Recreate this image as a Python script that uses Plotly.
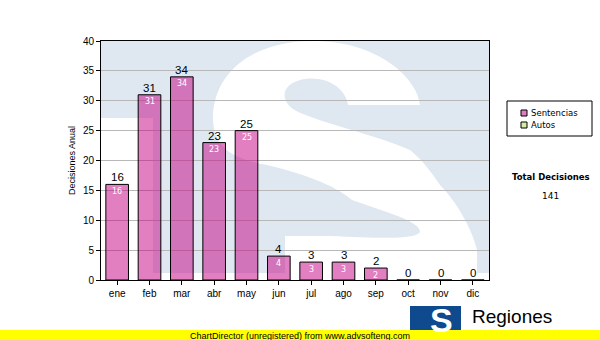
import plotly.graph_objects as go

# ---------------- data ----------------
months = ["ene", "feb", "mar", "abr", "may", "jun", "jul", "ago", "sep", "oct", "nov", "dic"]
sentencias = [16, 31, 34, 23, 25, 4, 3, 3, 2, 0, 0, 0]
series_names = ["Sentencias", "Autos"]
series_colors = ["#e07cc0", "#d9eca6"]
y_title = "Decisiones Anual"
total_label = "Total Decisiones"
footer_text = "ChartDirector (unregistered) from www.advsofteng.com"
logo_text = "Regiones"
y_ticks = [0, 5, 10, 15, 20, 25, 30, 35, 40]

total = sum(sentencias)

W, H = 600, 340
L, R, T, B = 101, 489, 41, 280   # plot area in pixels


def px(x):
    return (x - L) / (R - L)


def py(y):
    return (B - y) / (B - T)


def path(cmds):
    out = []
    for c in cmds:
        op, pts = c[0], c[1:]
        s = op
        for (x, y) in pts:
            s += " %.4f,%.4f" % (px(x), py(y))
        out.append(s)
    return " ".join(out) + " Z"


WM_BLUE = "#dfe8f1"
shapes = []
# watermark: T-shaped light-blue block
shapes.append(dict(type="rect", xref="paper", yref="paper", x0=px(101), x1=px(489), y0=py(118), y1=py(41),
                   fillcolor=WM_BLUE, line_width=0, layer="below"))
shapes.append(dict(type="rect", xref="paper", yref="paper", x0=px(153), x1=px(489), y0=py(273), y1=py(118),
                   fillcolor=WM_BLUE, line_width=0, layer="below"))
# watermark: white S cut out
s_path = path([
    ("M", (348, 105)),
    ("L", (420, 105)),
    ("C", (418, 80), (380, 41), (313, 41)),
    ("C", (250, 41), (213, 75), (213, 118)),
    ("C", (213, 145), (230, 158), (262, 164)),
    ("C", (300, 172), (335, 185), (352, 200)),
    ("C", (395, 215), (420, 222), (420, 232)),
    ("C", (415, 240), (380, 238), (330, 236)),
    ("L", (285, 236)),
    ("L", (285, 273)),
    ("L", (477, 273)),
    ("L", (477, 250)),
    ("C", (472, 228), (455, 200), (440, 185)),
    ("C", (430, 170), (420, 158), (410, 150)),
    ("C", (375, 135), (330, 125), (303, 114)),
    ("C", (280, 106), (278, 86), (300, 80)),
    ("C", (325, 74), (346, 88), (348, 105)),
])
shapes.append(dict(type="path", xref="paper", yref="paper", path=s_path,
                   fillcolor="white", line_width=0, layer="below"))

# legend box
shapes.append(dict(type="rect", xref="paper", yref="paper", x0=px(507), x1=px(592), y0=py(136), y1=py(101),
                   fillcolor="white", line=dict(color="black", width=1)))
annotations = []
for i, (name, col) in enumerate(zip(series_names, series_colors)):
    yc = 113 + i * 12
    shapes.append(dict(type="rect", xref="paper", yref="paper", x0=px(521), x1=px(527), y0=py(yc + 3), y1=py(yc - 3),
                       fillcolor=col, line=dict(color="black", width=1)))
    annotations.append(dict(xref="paper", yref="paper", x=px(529), y=py(yc), text=name, showarrow=False,
                            xanchor="left", yanchor="middle",
                            font=dict(family="DejaVu Sans", size=8.5, color="black")))

annotations.append(dict(xref="paper", yref="paper", x=px(551), y=py(177), text="<b>%s</b>" % total_label,
                        showarrow=False, xanchor="center", yanchor="middle",
                        font=dict(family="DejaVu Sans", size=8.5, color="black")))
annotations.append(dict(xref="paper", yref="paper", x=px(550), y=py(196), text=str(total),
                        showarrow=False, xanchor="center", yanchor="middle",
                        font=dict(family="DejaVu Sans", size=9, color="black")))

# value labels (data-driven, positioned by the axes)
for m, v in zip(months, sentencias):
    annotations.append(dict(xref="x", yref="y", x=m, y=v, text=str(v), showarrow=False,
                            xanchor="center", yanchor="middle", yshift=7,
                            font=dict(family="Liberation Sans", size=11.5, color="black")))
    if v > 0:
        annotations.append(dict(xref="x", yref="y", x=m, y=v, text=str(v), showarrow=False,
                                xanchor="center", yanchor="middle", yshift=-7,
                                font=dict(family="DejaVu Sans", size=8, color="white")))

# logo
shapes.append(dict(type="rect", xref="paper", yref="paper", x0=px(410), x1=px(461), y0=py(331), y1=py(306),
                   fillcolor="#0f4a8f", line_width=0))
annotations.append(dict(xref="paper", yref="paper", x=px(441), y=py(320), text="<b>S</b>", showarrow=False,
                        xanchor="center", yanchor="middle",
                        font=dict(family="Liberation Sans", size=34, color="white")))
annotations.append(dict(xref="paper", yref="paper", x=px(470), y=py(316), text=logo_text, showarrow=False,
                        xanchor="left", yanchor="middle",
                        font=dict(family="Liberation Sans", size=19, color="black")))

# footer yellow strip
shapes.append(dict(type="rect", xref="paper", yref="paper", x0=px(0), x1=px(600), y0=py(340), y1=py(330),
                   fillcolor="#ffff00", line_width=0))
annotations.append(dict(xref="paper", yref="paper", x=px(300), y=py(335.5), text=footer_text, showarrow=False,
                        xanchor="center", yanchor="middle",
                        font=dict(family="Liberation Sans", size=9, color="black")))

fig = go.Figure()
fig.add_trace(go.Bar(
    x=months, y=sentencias, name=series_names[0], width=0.7,
    marker=dict(color="rgba(195,0,130,0.5)", line=dict(color="black", width=1)),
    hoverinfo="skip", showlegend=False,
))

fig.update_layout(
    width=W, height=H,
    margin=dict(l=L, r=W - R, t=T, b=H - B, pad=0),
    paper_bgcolor="white", plot_bgcolor="rgba(0,0,0,0)",
    shapes=shapes, annotations=annotations, showlegend=False,
    bargap=0.3,
)
fig.update_xaxes(
    range=[-0.5, 11.5], showgrid=False, showline=True, linecolor="black", linewidth=1, mirror=True,
    ticks="outside", ticklen=4, tickcolor="black",
    tickfont=dict(family="Liberation Sans", size=10, color="black"), fixedrange=True,
)
fig.update_yaxes(
    range=[0, 40], tickvals=y_ticks, showgrid=True, gridcolor="#b8b8b8", gridwidth=1,
    showline=True, linecolor="black", linewidth=1, mirror=True,
    ticks="outside", ticklen=4, tickcolor="black", zeroline=False,
    tickfont=dict(family="Liberation Sans", size=10, color="black"),
    title=dict(text=y_title, font=dict(family="Liberation Sans", size=9, color="black"), standoff=5),
    fixedrange=True,
)

fig.write_html("out.html", config={"displayModeBar": False})
